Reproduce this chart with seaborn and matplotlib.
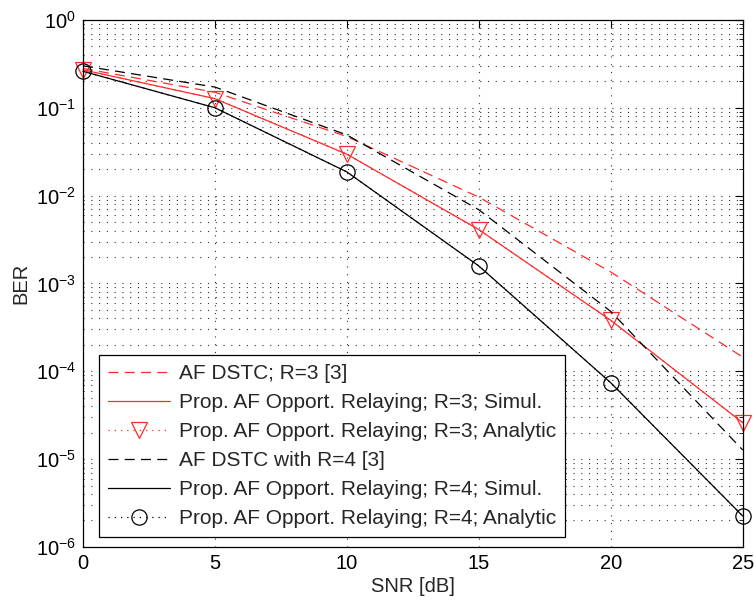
import numpy as np
import pandas as pd
import matplotlib
matplotlib.use("Agg")
import matplotlib.pyplot as plt
import seaborn as sns
from matplotlib.ticker import LogLocator, NullFormatter, FixedLocator

snr = [0, 5, 10, 15, 20, 25]
af_dstc_r3 = [0.28, 0.15, 0.047, 9.6e-3, 1.35e-3, 1.45e-4]
prop_r3_sim = [0.27, 0.127, 0.0296, 4.1e-3, 3.8e-4, 2.6e-5]
prop_r3_ana = [0.27, 0.127, 0.0296, 4.1e-3, 3.8e-4, 2.6e-5]
af_dstc_r4 = [0.30, 0.172, 0.049, 6.9e-3, 4.8e-4, 1.27e-5]
prop_r4_sim = [0.26, 0.10, 0.0186, 1.58e-3, 7.4e-5, 2.25e-6]
prop_r4_ana = [0.26, 0.10, 0.0186, 1.58e-3, 7.4e-5, 2.25e-6]

labels = ["AF DSTC; R=3 [3]",
          "Prop. AF Opport. Relaying; R=3; Simul.",
          "Prop. AF Opport. Relaying; R=3; Analytic",
          "AF DSTC with R=4 [3]",
          "Prop. AF Opport. Relaying; R=4; Simul.",
          "Prop. AF Opport. Relaying; R=4; Analytic"]

sns.set_style("white")
plt.rcParams['font.family'] = ['Liberation Sans', 'DejaVu Sans']
plt.rcParams['mathtext.fontset'] = 'custom'
plt.rcParams['mathtext.rm'] = 'Liberation Sans'

fig = plt.figure(figsize=(7.54, 6.03), dpi=100)
ax = fig.add_axes([0.110, 0.093, 0.875, 0.874])

red = "#ff2a2a"
black = "#000000"
lw = 0.9
series = [
    (af_dstc_r3, red, (0, (8, 5)), None),
    (prop_r3_sim, red, "-", None),
    (prop_r3_ana, red, (0, (1, 4)), "v"),
    (af_dstc_r4, black, (0, (8, 5)), None),
    (prop_r4_sim, black, "-", None),
    (prop_r4_ana, black, (0, (1, 4)), "o"),
]
for (vals, c, ls, mk), lab in zip(series, labels):
    df = pd.DataFrame({"SNR": snr, "BER": vals})
    sns.lineplot(data=df, x="SNR", y="BER", ax=ax, color=c, linestyle=ls,
                 linewidth=lw, marker=mk, markersize=11 if mk else 0,
                 markerfacecolor="none", markeredgecolor=c, markeredgewidth=0.9,
                 label=lab, clip_on=False)

fs = 15
ax.set_yscale("log")
ax.set_xlim(0, 25)
ax.set_ylim(1e-6, 1)
ax.set_xticks([0, 5, 10, 15, 20, 25])
ax.yaxis.set_major_locator(FixedLocator([1e-6, 1e-5, 1e-4, 1e-3, 1e-2, 1e-1, 1]))
minors = [m * 10.0 ** e for e in range(-6, 0) for m in range(2, 10)]
ax.yaxis.set_minor_locator(FixedLocator(minors))
ax.yaxis.set_minor_formatter(NullFormatter())
ax.tick_params(axis="both", which="both", direction="in", top=True, right=True,
               labelsize=14.5, colors="black")
ax.tick_params(which="major", length=6, width=0.8, pad=5)
ax.tick_params(which="minor", length=3, width=0.6)
ax.grid(True, which="major", linestyle=(0, (1, 6)), color="#333333", linewidth=0.8)
ax.grid(True, which="minor", axis="y", linestyle=(0, (1, 6)), color="#333333", linewidth=0.8)
for sp in ax.spines.values():
    sp.set_color("black")
    sp.set_linewidth(0.9)
ax.set_xlabel("SNR [dB]", fontsize=14.5, labelpad=3)
ax.set_ylabel("BER", fontsize=14.5, labelpad=4)

leg = ax.legend(loc="lower left", bbox_to_anchor=(0.024, 0.018), fontsize=fs,
                frameon=True, fancybox=False, edgecolor="black", framealpha=1,
                handlelength=2.95, handletextpad=0.45, borderpad=0.45, labelspacing=0.48,
                borderaxespad=0)
leg.get_frame().set_linewidth(0.9)

fig.savefig("out.png", dpi=100)
